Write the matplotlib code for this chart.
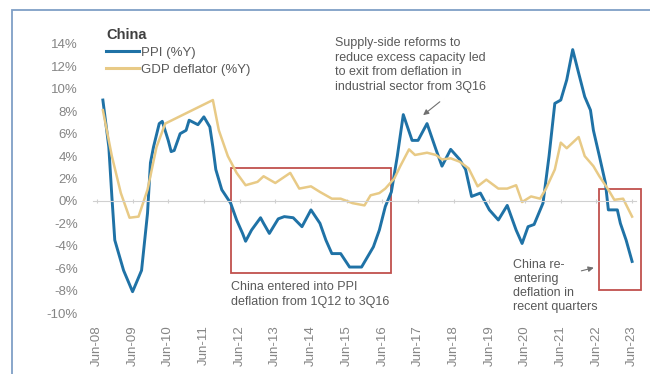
import matplotlib
matplotlib.use("Agg")
import matplotlib.pyplot as plt
import matplotlib.dates as mdates
import matplotlib.patches as patches
import pandas as pd

plt.rcParams['font.family'] = ['Liberation Sans', 'DejaVu Sans']

# PPI (%Y)
ppi_dates = ["2008-08", "2008-10", "2008-11", "2008-12", "2009-03", "2009-06", "2009-09",
             "2009-11", "2009-12", "2010-01", "2010-03", "2010-04", "2010-06", "2010-07",
             "2010-08", "2010-10", "2010-12", "2011-01", "2011-04", "2011-06", "2011-08",
             "2011-09", "2011-10", "2011-12", "2012-03", "2012-05", "2012-07", "2012-08",
             "2012-10", "2013-01", "2013-02", "2013-04", "2013-07", "2013-09", "2013-12",
             "2014-03", "2014-06", "2014-09", "2014-11", "2015-01", "2015-04", "2015-07",
             "2015-11", "2016-03", "2016-05", "2016-07", "2016-09", "2016-11", "2017-01",
             "2017-04", "2017-06", "2017-09", "2017-12", "2018-02", "2018-05", "2018-08",
             "2018-10", "2018-12", "2019-03", "2019-06", "2019-09", "2019-12", "2020-03",
             "2020-05", "2020-07", "2020-09", "2020-12", "2021-02", "2021-04", "2021-06",
             "2021-08", "2021-10", "2021-12", "2022-02", "2022-04", "2022-05", "2022-07",
             "2022-09", "2022-10", "2023-01", "2023-02", "2023-04", "2023-06"]
ppi_vals = [9.0, 4.8, 0.4, -3.5, -6.2, -8.1, -6.2,
            -1.1, 3.4, 4.8, 6.9, 7.1, 5.4, 4.4,
            4.5, 6.0, 6.3, 7.2, 6.8, 7.5, 6.6,
            4.8, 2.8, 1.0, -0.2, -1.7, -2.9, -3.6,
            -2.6, -1.5, -2.0, -2.9, -1.6, -1.4, -1.5,
            -2.3, -0.8, -2.0, -3.5, -4.7, -4.7, -5.9,
            -5.9, -4.1, -2.6, -0.5, 0.8, 4.0, 7.7,
            5.4, 5.4, 6.9, 4.6, 3.1, 4.6, 3.7,
            2.8, 0.4, 0.7, -0.8, -1.7, -0.4, -2.6,
            -3.8, -2.3, -2.1, -0.2, 4.0, 8.7, 9.0,
            10.8, 13.5, 11.4, 9.3, 8.1, 6.3, 4.0,
            1.6, -0.8, -0.8, -2.0, -3.5, -5.4]

# GDP deflator (%Y)
gdp_dates = ["2008-08", "2008-11", "2009-02", "2009-05", "2009-08", "2009-11", "2010-02",
             "2010-05", "2011-09", "2011-11", "2012-02", "2012-05", "2012-08", "2012-12",
             "2013-02", "2013-06", "2013-11", "2014-02", "2014-06", "2014-09", "2015-01",
             "2015-04", "2015-08", "2015-12", "2016-02", "2016-05", "2016-07", "2016-10",
             "2016-12", "2017-03", "2017-05", "2017-09", "2017-12", "2018-02", "2018-05",
             "2018-08", "2018-11", "2019-02", "2019-05", "2019-09", "2019-12", "2020-03",
             "2020-05", "2020-08", "2020-11", "2021-01", "2021-04", "2021-06", "2021-08",
             "2021-12", "2022-02", "2022-05", "2022-07", "2022-10", "2022-12", "2023-03",
             "2023-06"]
gdp_vals = [8.1, 4.0, 0.7, -1.5, -1.4, 1.0, 4.8,
            6.9, 9.0, 6.3, 4.0, 2.5, 1.4, 1.7,
            2.2, 1.6, 2.5, 1.1, 1.3, 0.8, 0.2,
            0.2, -0.2, -0.4, 0.5, 0.7, 1.1, 2.0,
            3.1, 4.6, 4.1, 4.3, 4.1, 3.7, 3.8,
            3.5, 2.9, 1.3, 1.9, 1.1, 1.1, 1.4,
            -0.1, 0.4, 0.2, 1.1, 2.8, 5.2, 4.7,
            5.7, 4.0, 3.1, 2.2, 1.0, 0.1, 0.2,
            -1.4]

tick_years = list(range(2008, 2024))
y_ticks = list(range(-10, 15, 2))

BLUE = "#1F72A6"
YELLOW = "#E8CA86"
RED = "#C0504D"
GREY = "#858585"
TXT = "#595959"

fig = plt.figure(figsize=(6.5, 3.74), dpi=100)
ax = fig.add_axes([93 / 650, 61 / 374, 543 / 650, 269 / 374])

ppi_x = pd.to_datetime(ppi_dates, format="%Y-%m")
gdp_x = pd.to_datetime(gdp_dates, format="%Y-%m")
ax.plot(ppi_x, ppi_vals, color=BLUE, lw=2.1, label="PPI (%Y)", solid_joinstyle="round")
ax.plot(gdp_x, gdp_vals, color=YELLOW, lw=1.8, label="GDP deflator (%Y)", solid_joinstyle="round")

ticks = [pd.Timestamp(f"{y}-06-01") for y in tick_years]
ax.set_xlim(pd.Timestamp("2008-06-01") - pd.Timedelta(days=40),
            pd.Timestamp("2023-06-01") + pd.Timedelta(days=40))
ax.set_ylim(-10, 14)

# zero line with small year ticks
for s in ["top", "right", "left"]:
    ax.spines[s].set_visible(False)
ax.spines["bottom"].set_position(("data", 0))
ax.spines["bottom"].set_color("#D0D0D0")
ax.set_xticks(ticks)
ax.tick_params(axis="x", length=3, direction="inout", color="#D0D0D0", labelbottom=False)
sec = ax.secondary_xaxis("bottom")
sec.set_xticks(ticks)
sec.set_xticklabels([t.strftime("Jun-%y") for t in ticks], rotation=90, fontsize=9.5, color=GREY)
sec.spines["bottom"].set_visible(False)
sec.tick_params(length=0, pad=9)

ax.set_yticks(y_ticks)
ax.set_yticklabels([f"{v}%" for v in y_ticks], fontsize=9.5, color=GREY)
ax.tick_params(axis="y", length=0, pad=11)

leg = ax.legend(loc="upper left", bbox_to_anchor=(106 / 650, 1 - 28 / 374),
                bbox_transform=fig.transFigure, frameon=False, fontsize=9.5,
                handlelength=2.5, handletextpad=0.15, labelspacing=0.35,
                borderaxespad=0, borderpad=0, title="China", alignment="left",
                title_fontproperties={"weight": "bold", "size": 10.5})
leg.get_title().set_color("#404040")
for t in leg.get_texts():
    t.set_color(TXT)
for ln in leg.get_lines():
    ln.set_linewidth(2.2)

def d(y, m):
    return mdates.date2num(pd.Timestamp(f"{y}-{m:02d}-01"))

# red boxes
b1 = patches.Rectangle((d(2012, 3), -6.4), d(2016, 9) - d(2012, 3), 9.35,
                       fill=False, ec=RED, lw=1.3, clip_on=False)
b2 = patches.Rectangle((d(2022, 7), -7.95), d(2023, 9) - d(2022, 7), 9.0,
                       fill=False, ec=RED, lw=1.3, clip_on=False)
ax.add_patch(b1)
ax.add_patch(b2)

ax.text(d(2015, 2), 14.6, "Supply-side reforms to\nreduce excess capacity led\nto exit from deflation in\nindustrial sector from 3Q16",
        fontsize=9, color=TXT, va="top", ha="left", linespacing=1.27)
ax.annotate("", xy=(d(2017, 7), 7.5), xytext=(d(2018, 2), 9.0),
            arrowprops=dict(arrowstyle="-|>", color="#707070", lw=0.8, mutation_scale=8))
ax.text(d(2012, 3), -7.15, "China entered into PPI\ndeflation from 1Q12 to 3Q16",
        fontsize=9, color=TXT, va="top", ha="left", linespacing=1.3)
ax.text(d(2020, 2), -5.2, "China re-\nentering\ndeflation in\nrecent quarters",
        fontsize=9, color=TXT, va="top", ha="left", linespacing=1.2)
ax.annotate("", xy=(d(2022, 6), -5.9), xytext=(d(2021, 12), -6.3),
            arrowprops=dict(arrowstyle="-|>", color="#707070", lw=0.8, mutation_scale=8))

# outer frame of the panel
fig.patches.append(patches.Rectangle((12 / 650, -0.5), 2.0, 0.5 + 1 - 10 / 374,
                                     transform=fig.transFigure, fill=False,
                                     ec="#7F9FC6", lw=1.3))

fig.savefig("out.png", dpi=100)
